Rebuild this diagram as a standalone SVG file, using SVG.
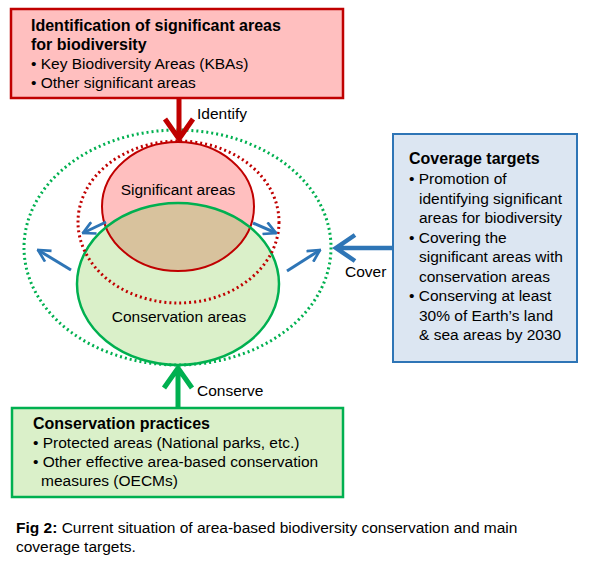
<svg xmlns="http://www.w3.org/2000/svg" width="590" height="567" viewBox="0 0 590 567">
<defs>
<style>
text{font-family:"Liberation Sans",Arial,sans-serif;fill:#000}
.t{font-size:16px;font-weight:bold}
.b{font-size:15.5px}
.lbl{font-size:15.5px}
.cap{font-size:15.5px}
.blue{stroke:#2E75B6;stroke-width:3;fill:none;stroke-linecap:butt}
</style>
<marker id="bh" viewBox="0 0 10 10" refX="9" refY="5" markerWidth="5" markerHeight="5" orient="auto" markerUnits="strokeWidth">
<path d="M1,0.8 L9,5 L1,9.2" fill="none" stroke="#2E75B6" stroke-width="1.8"/>
</marker>
<clipPath id="sigClip"><ellipse cx="178" cy="206.5" rx="76" ry="64.5"/></clipPath>
</defs>
<rect width="590" height="567" fill="#fff"/>

<g id="venn">
<ellipse cx="178" cy="206.5" rx="76" ry="64.5" fill="#FFBFBF"/>
<ellipse cx="178" cy="284" rx="101" ry="81" fill="#DAF0C9"/>
<ellipse cx="178" cy="284" rx="101" ry="81" fill="#D8C29D" clip-path="url(#sigClip)"/>
<ellipse cx="178" cy="206.5" rx="76" ry="64.5" fill="none" stroke="#C00000" stroke-width="2"/>
<ellipse cx="178" cy="284" rx="101" ry="81" fill="none" stroke="#00B050" stroke-width="2.5"/>
<ellipse cx="178.5" cy="222" rx="100.5" ry="81" fill="none" stroke="#C00000" stroke-width="3" stroke-dasharray="2 3"/>
<ellipse cx="177.5" cy="247.5" rx="153.5" ry="117.5" fill="none" stroke="#00B050" stroke-width="3" stroke-dasharray="2 3"/>
<text class="lbl" x="178" y="195" text-anchor="middle">Significant areas</text>
<text class="lbl" x="179" y="322" text-anchor="middle">Conservation areas</text>
</g>

<g id="identify-box">
<rect x="11" y="9" width="332" height="89" fill="#FFBFBF" stroke="#C00000" stroke-width="2.5"/>
<text class="t" x="31" y="31">Identification of significant areas</text>
<text class="t" x="31" y="50">for biodiversity</text>
<text class="b" x="31" y="69">• Key Biodiversity Areas (KBAs)</text>
<text class="b" x="31" y="88">• Other significant areas</text>
</g>

<g id="coverage-box">
<rect x="393" y="134" width="184" height="228" fill="#DCE6F2" stroke="#2E75B6" stroke-width="2"/>
<text class="t" x="409" y="164">Coverage targets</text>
<text class="b" x="409" y="184">• Promotion of</text>
<text class="b" x="419" y="203.5">identifying significant</text>
<text class="b" x="419" y="223">areas for biodiversity</text>
<text class="b" x="409" y="242.5">• Covering the</text>
<text class="b" x="419" y="262">significant areas with</text>
<text class="b" x="419" y="281.5">conservation areas</text>
<text class="b" x="409" y="301">• Conserving at least</text>
<text class="b" x="419" y="320.5">30% of Earth’s land</text>
<text class="b" x="419" y="340">&amp; sea areas by 2030</text>
</g>

<g id="conserve-box">
<rect x="12" y="408" width="331" height="89" fill="#DAF0C9" stroke="#00B050" stroke-width="2.5"/>
<text class="t" x="33" y="429">Conservation practices</text>
<text class="b" x="33" y="448">• Protected areas (National parks, etc.)</text>
<text class="b" x="33" y="467">• Other effective area-based conservation</text>
<text class="b" x="41" y="486">measures (OECMs)</text>
</g>

<g id="connectors">
<path d="M179,98 V139 M165,119 L179,139 L193,119" fill="none" stroke="#C00000" stroke-width="5" stroke-linejoin="miter"/>
<path d="M178,408 V368 M164,388 L178,368 L192,388" fill="none" stroke="#00B050" stroke-width="5" stroke-linejoin="miter"/>
<path d="M393,248 H336 M355,235 L336,248 L355,261" fill="none" stroke="#2E75B6" stroke-width="4.5" stroke-linejoin="miter"/>
<line class="blue" x1="106" y1="222" x2="83" y2="233" marker-end="url(#bh)"/>
<line class="blue" x1="71" y1="270" x2="38" y2="250" marker-end="url(#bh)"/>
<line class="blue" x1="253" y1="223" x2="276" y2="233" marker-end="url(#bh)"/>
<line class="blue" x1="287" y1="271" x2="320" y2="250" marker-end="url(#bh)"/>
<text class="lbl" x="197" y="119">Identify</text>
<text class="lbl" x="345" y="277">Cover</text>
<text class="lbl" x="197" y="396">Conserve</text>
</g>

<g id="caption">
<text class="cap" x="16" y="533"><tspan font-weight="bold">Fig 2:</tspan> Current situation of area-based biodiversity conservation and main</text>
<text class="cap" x="16" y="552">coverage targets.</text>
</g>
</svg>
